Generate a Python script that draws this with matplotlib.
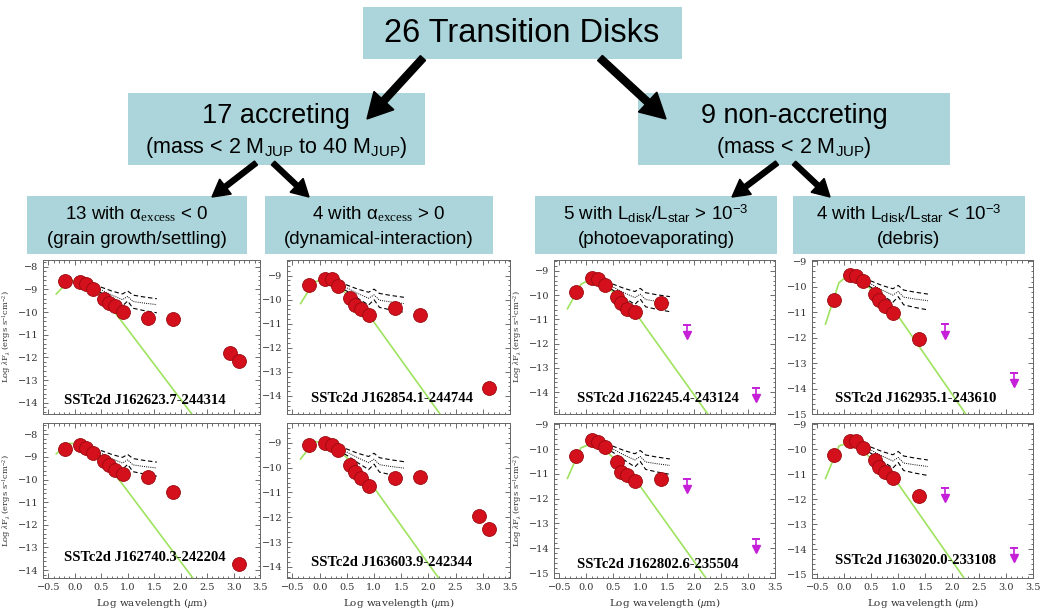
import numpy as np
import matplotlib
matplotlib.use("Agg")
import matplotlib.pyplot as plt
from matplotlib.patches import Rectangle
from matplotlib.ticker import MultipleLocator, FuncFormatter

plt.rcParams['font.family'] = ['Liberation Sans', 'DejaVu Sans']
plt.rcParams['mathtext.fontset'] = 'custom'
plt.rcParams['mathtext.rm'] = 'Liberation Serif'
plt.rcParams['mathtext.it'] = 'Liberation Serif:italic'
plt.rcParams['mathtext.sf'] = 'Liberation Sans'

# photometry bands (log wavelength, um): R J H K IRAC1-4 MIPS24 MIPS70 850um 1.3mm
phot_x = [-0.19, 0.10, 0.22, 0.34, 0.56, 0.65, 0.76, 0.91, 1.38, 1.85, 2.93, 3.11]
nan = np.nan

# log lambda F_lambda
flux_162623 = [-8.62, -8.65, -8.77, -8.98, -9.42, -9.62, -9.73, -9.98, -10.28, -10.31, -11.79, -12.18]
flux_162740 = [-8.64, -8.47, -8.60, -8.82, -9.16, -9.37, -9.59, -9.74, -9.89, -10.57, nan, -13.73]
flux_162854 = [-9.40, -9.14, -9.14, -9.41, -9.92, -10.20, -10.40, -10.65, -10.34, -10.63, nan, -13.66]
flux_163603 = [-9.10, -9.00, -9.07, -9.30, -9.89, -10.16, -10.41, -10.75, -10.41, -10.38, -11.94, -12.48]
flux_162245 = [-9.87, -9.30, -9.34, -9.57, -10.07, -10.34, -10.59, -10.69, -10.34, nan, nan, nan]
flux_162802 = [-10.28, -9.64, -9.71, -9.91, -10.52, -10.93, -11.04, -11.27, -11.20, nan, nan, nan]
flux_162935 = [-10.52, -9.53, -9.56, -9.79, -10.27, -10.52, -10.74, -11.04, -12.07, nan, nan, nan]
flux_163020 = [-10.24, -9.67, -9.67, -9.93, -10.43, -10.69, -10.91, -11.16, -11.87, nan, nan, nan]

# upper limits (70um, 1.3mm) for the non-accreting disks
ul_x = [1.87, 3.15]
ul_162245 = [-11.24, -13.84]
ul_162802 = [-11.20, -13.62]
ul_162935 = [-11.47, -13.38]
ul_163020 = [-11.53, -13.93]

# stellar photosphere (green)
phot_model_x = [-0.35, -0.1, 0.1, 0.3, 0.55, 0.9, 2.35]
model_162623 = [-9.20, -8.60, -8.62, -8.85, -9.40, -10.45, -14.93]
model_162740 = [-8.86, -8.40, -8.42, -8.67, -9.20, -10.20, -14.72]
model_162854 = [-10.16, -9.25, -9.18, -9.40, -9.85, -10.62, -15.18]
model_163603 = [-9.65, -8.95, -8.98, -9.20, -9.70, -10.50, -14.95]
model_162245 = [-10.56, -9.55, -9.32, -9.50, -9.98, -10.70, -15.20]
model_162802 = [-11.18, -9.95, -9.78, -9.95, -10.45, -11.20, -15.60]
model_162935 = [-11.47, -9.84, -9.50, -9.75, -10.20, -10.85, -15.30]
model_163020 = [-11.17, -9.87, -9.72, -9.95, -10.50, -11.08, -15.55]

# Taurus median SED and quartiles, relative to the J-band point
med_x = [0.10, 0.30, 0.50, 0.70, 0.90, 1.00, 1.10, 1.30, 1.55]
med_upper = [0.02, -0.10, -0.25, -0.42, -0.55, -0.42, -0.60, -0.68, -0.76]
med_mid = [-0.01, -0.17, -0.37, -0.60, -0.80, -0.66, -0.88, -0.95, -1.02]
med_lower = [-0.04, -0.25, -0.50, -0.80, -1.08, -0.86, -1.18, -1.28, -1.38]

names = ["SSTc2d J162623.7-244314", "SSTc2d J162740.3-242204",
         "SSTc2d J162854.1-244744", "SSTc2d J163603.9-242344",
         "SSTc2d J162245.4-243124", "SSTc2d J162802.6-235504",
         "SSTc2d J162935.1-243610", "SSTc2d J163020.0-233108"]
fluxes = [flux_162623, flux_162740, flux_162854, flux_163603,
          flux_162245, flux_162802, flux_162935, flux_163020]
models = [model_162623, model_162740, model_162854, model_163603,
          model_162245, model_162802, model_162935, model_163020]
limits = [None, None, None, None, ul_162245, ul_162802, ul_162935, ul_163020]
ylims = [(-14.5, -7.7), (-14.35, -7.5), (-14.75, -8.35), (-14.45, -8.2),
         (-14.9, -8.55), (-15.2, -8.95), (-15.0, -8.95), (-15.15, -8.95)]
label_y = [0.09, 0.135, 0.1, 0.1, 0.1, 0.09, 0.1, 0.115]

teal = '#abd5da'
W, H = 1044, 615
fig = plt.figure(figsize=(W / 100, H / 100), dpi=100)

# flowchart layer in pixel units
ov = fig.add_axes([0, 0, 1, 1])
ov.set_xlim(0, W)
ov.set_ylim(H, 0)
ov.axis('off')

boxes = [(363, 7, 682, 59), (128, 93, 425, 165), (638, 93, 950, 165),
         (27, 196, 247, 254), (265, 196, 493, 254), (535, 196, 777, 254), (793, 196, 1025, 254)]
for x0, y0, x1, y1 in boxes:
    ov.add_patch(Rectangle((x0, y0), x1 - x0, y1 - y0, color=teal, lw=0))

ov.text(522, 34, "26 Transition Disks", ha='center', va='center', fontsize=23.5)
ov.text(276, 116, "17 accreting", ha='center', va='center', fontsize=19.5)
ov.text(276, 147, r"(mass < 2 M$_{\mathsf{JUP}}$ to 40 M$_{\mathsf{JUP}}$)", ha='center', va='center', fontsize=15.5)
ov.text(794, 116, "9 non-accreting", ha='center', va='center', fontsize=19.5)
ov.text(794, 147, r"(mass < 2 M$_{\mathsf{JUP}}$)", ha='center', va='center', fontsize=15.5)

sub_titles = [r"13 with α$_{\mathrm{excess}}$ < 0", r"4 with α$_{\mathrm{excess}}$ > 0",
              r"5 with L$_{\mathsf{disk}}$/L$_{\mathsf{star}}$ > 10$^{\mathsf{-3}}$",
              r"4 with L$_{\mathsf{disk}}$/L$_{\mathsf{star}}$ < 10$^{\mathsf{-3}}$"]
sub_notes = ["(grain growth/settling)", "(dynamical-interaction)", "(photoevaporating)", "(debris)"]
for (x0, y0, x1, y1), t, n in zip(boxes[3:], sub_titles, sub_notes):
    cx = (x0 + x1) / 2
    ov.text(cx, 214, t, ha='center', va='center', fontsize=13.5)
    ov.text(cx, 240, n, ha='center', va='center', fontsize=13.5)

big = dict(width=7, head_width=27, head_length=25, length_includes_head=True, fc='k', ec='k')
small = dict(width=5, head_width=19, head_length=17, length_includes_head=True, fc='k', ec='k')
ov.arrow(423, 58, 367 - 423, 119 - 58, **big)
ov.arrow(600, 58, 666 - 600, 119 - 58, **big)
ov.arrow(256, 163, 212 - 256, 197 - 163, **small)
ov.arrow(273, 163, 309 - 273, 197 - 163, **small)
ov.arrow(777, 163, 732 - 777, 197 - 163, **small)
ov.arrow(794, 163, 830 - 794, 197 - 163, **small)

# SED panels, pixel boxes (left, right) per column and (top, bottom) per row
cols = [(43, 260), (287, 510), (554, 775), (812, 1033)]
rows = [(260, 414), (423, 578)]
order = [(0, 0), (1, 0), (0, 1), (1, 1), (0, 2), (1, 2), (0, 3), (1, 3)]

fmt = FuncFormatter(lambda v, p: f"{v:.1f}".replace('-', '\u2212'))
yfmt = FuncFormatter(lambda v, p: f"{v:.0f}".replace('-', '\u2212'))

for i, (r, c) in enumerate(order):
    l, rr = cols[c]
    t, b = rows[r]
    ax = fig.add_axes([l / W, 1 - b / H, (rr - l) / W, (b - t) / H])
    fl = fluxes[i]

    ax.plot(phot_model_x, models[i], color='#9ee35e', lw=1.2, zorder=2)
    jref = fl[1]
    ax.plot(med_x, np.array(med_upper) + jref, color='k', lw=0.8, ls=(0, (4, 2.5)), zorder=3)
    ax.plot(med_x, np.array(med_mid) + jref, color='k', lw=0.7, ls=(0, (1, 1.2)), zorder=3)
    ax.plot(med_x, np.array(med_lower) + jref, color='k', lw=0.8, ls=(0, (4, 2.5)), zorder=3)
    ax.plot(phot_x, fl, 'o', ms=10, mfc='#d4101c', mec='#9a0a10', mew=0.6, ls='none', zorder=4)

    if limits[i] is not None:
        for ux, uy in zip(ul_x, limits[i]):
            ax.plot([ux, ux], [uy, uy - 0.42], color='#c51fd8', lw=1.2, zorder=4)
            ax.plot(ux, uy, marker='_', ms=6, mew=1.4, color='#c51fd8', zorder=4)
            ax.plot(ux, uy - 0.42, marker='v', ms=6, color='#c51fd8', mec='#c51fd8', zorder=4)

    ax.set_xlim(-0.6, 3.5)
    ax.set_ylim(*ylims[i])
    ax.xaxis.set_major_locator(MultipleLocator(0.5))
    ax.xaxis.set_minor_locator(MultipleLocator(0.1))
    ax.yaxis.set_major_locator(MultipleLocator(1))
    ax.yaxis.set_minor_locator(MultipleLocator(0.2))
    ax.xaxis.set_major_formatter(fmt)
    ax.yaxis.set_major_formatter(yfmt)
    ax.tick_params(which='both', direction='in', top=True, right=True, colors='#555555',
                   labelcolor='#333333', labelsize=7, width=0.6)
    ax.tick_params(which='major', length=3.5)
    ax.tick_params(which='minor', length=1.8)
    for lab in ax.get_xticklabels() + ax.get_yticklabels():
        lab.set_family('DejaVu Serif')
    for s in ax.spines.values():
        s.set_color('#666666')
        s.set_linewidth(0.7)
    if r == 0:
        ax.tick_params(labelbottom=False)
    else:
        ax.set_xlabel(r"Log wavelength ($\mu$m)", fontsize=7.5, family='DejaVu Serif',
                      color='#333333', labelpad=3)
    if c in (0, 2):
        ax.set_ylabel(r"Log $\lambda$F$_\lambda$ (ergs s$^{-1}$cm$^{-2}$)", fontsize=6,
                      family='DejaVu Serif', color='#333333', labelpad=3)

    ax.text(0.47, label_y[i], names[i], transform=ax.transAxes, ha='center', va='center',
            fontsize=10.5, fontweight='bold', family='Liberation Serif', zorder=5)

fig.savefig("out.png", dpi=100)
